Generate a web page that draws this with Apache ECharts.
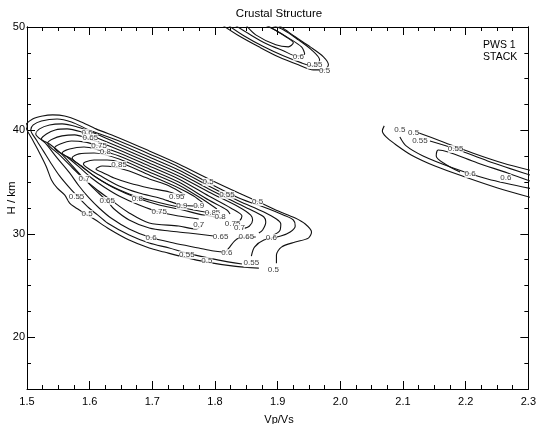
<!DOCTYPE html>
<html><head><meta charset="utf-8">
<script src="https://cdn.jsdelivr.net/npm/echarts@6/dist/echarts.min.js"></script>
<style>html,body{margin:0;padding:0;background:#fff}#c{width:539px;height:424px}</style>
</head><body><div id="c"></div>
<script>
// ---- data: contour polylines (Vp/Vs, H km) ----
const lvl050 = [[1.870,26.69],[1.830,26.88],[1.787,27.27],[1.750,27.75],[1.719,28.24],[1.695,28.63],[1.663,29.40],[1.631,30.47],[1.607,31.43],[1.591,32.02],[1.576,32.60],[1.568,32.98],[1.560,33.76],[1.548,34.44],[1.539,35.21],[1.531,36.47],[1.520,37.82],[1.509,39.08],[1.498,40.44],[1.509,41.11],[1.525,41.40],[1.541,41.50],[1.560,41.40],[1.583,40.92],[1.610,40.15],[1.647,39.27],[1.695,38.02],[1.742,36.76],[1.790,35.31],[1.838,33.95],[1.870,33.08],[1.901,32.21],[1.928,31.53],[1.944,30.95],[1.954,30.18],[1.949,29.59],[1.928,29.21],[1.906,28.72],[1.898,27.95],[1.898,27.17]];
const lvl055 = [[1.843,27.08],[1.806,27.46],[1.755,28.14],[1.727,28.63],[1.695,29.11],[1.663,29.88],[1.631,30.95],[1.615,31.72],[1.599,32.50],[1.583,33.47],[1.568,34.44],[1.552,35.60],[1.539,36.76],[1.526,38.02],[1.515,39.08],[1.506,40.05],[1.510,40.53],[1.523,40.92],[1.548,41.11],[1.571,40.82],[1.599,40.05],[1.647,38.98],[1.695,37.73],[1.742,36.47],[1.790,34.92],[1.838,33.47],[1.886,32.40],[1.909,31.82],[1.925,31.34],[1.928,30.76],[1.920,30.18],[1.905,29.79],[1.878,29.40],[1.863,28.72],[1.858,27.85]];
const lvl060 = [[1.865,29.69],[1.838,29.59],[1.831,29.30],[1.822,28.63],[1.816,28.24],[1.798,28.34],[1.774,28.63],[1.734,29.11],[1.695,29.69],[1.663,30.47],[1.634,31.53],[1.615,32.50],[1.599,33.47],[1.583,34.63],[1.568,35.89],[1.548,37.34],[1.529,38.79],[1.514,39.66],[1.520,40.15],[1.536,40.53],[1.556,40.63],[1.580,40.34],[1.607,39.76],[1.647,38.69],[1.695,37.43],[1.742,36.18],[1.790,34.63],[1.838,33.18],[1.878,32.11],[1.898,31.43],[1.905,30.95],[1.903,30.27],[1.893,29.88]];
const lvl065 = [[1.798,29.79],[1.758,30.08],[1.727,30.27],[1.695,30.56],[1.663,31.34],[1.639,32.40],[1.628,33.18],[1.612,34.05],[1.593,35.21],[1.574,36.47],[1.555,37.73],[1.536,38.69],[1.523,39.18],[1.531,39.66],[1.545,40.05],[1.564,40.15],[1.587,39.85],[1.612,39.27],[1.647,38.40],[1.695,37.14],[1.742,35.89],[1.790,34.34],[1.838,32.89],[1.861,32.21],[1.878,31.63],[1.881,31.14],[1.876,30.37],[1.870,30.08]];
const lvl070 = [[1.779,30.85],[1.770,30.47],[1.742,30.76],[1.695,31.05],[1.663,32.02],[1.634,33.27],[1.612,34.24],[1.591,35.31],[1.571,36.47],[1.552,37.63],[1.533,38.79],[1.541,39.18],[1.556,39.47],[1.576,39.57],[1.599,39.18],[1.623,38.69],[1.647,38.11],[1.695,36.85],[1.742,35.60],[1.790,34.05],[1.838,32.60],[1.857,31.82],[1.860,31.34],[1.855,30.76],[1.844,30.47]];
const lvl075 = [[1.774,31.43],[1.742,31.72],[1.711,32.11],[1.679,32.79],[1.647,33.66],[1.623,34.53],[1.603,35.40],[1.583,36.47],[1.564,37.43],[1.544,38.31],[1.553,38.69],[1.571,38.98],[1.591,38.89],[1.615,38.50],[1.647,37.82],[1.695,36.56],[1.742,35.31],[1.790,33.66],[1.825,32.50],[1.843,31.72],[1.839,31.24],[1.830,30.95]];
const lvl080 = [[1.824,31.92],[1.819,32.31],[1.790,33.27],[1.742,35.01],[1.695,36.27],[1.647,37.53],[1.615,38.11],[1.591,38.40],[1.568,38.21],[1.556,37.82],[1.571,37.24],[1.590,36.37],[1.612,35.40],[1.639,34.44],[1.676,33.47],[1.711,32.79],[1.742,32.40],[1.782,31.82],[1.812,31.53]];
const lvl085 = [[1.803,32.40],[1.782,33.27],[1.742,34.73],[1.695,35.98],[1.647,37.24],[1.607,37.82],[1.583,37.73],[1.572,37.34],[1.587,36.56],[1.607,35.60],[1.631,34.73],[1.663,33.86],[1.695,33.27],[1.727,32.79],[1.766,32.31],[1.793,32.02]];
const lvl090 = [[1.781,32.98],[1.766,33.66],[1.742,34.44],[1.695,35.69],[1.647,36.95],[1.628,37.14],[1.607,37.14],[1.593,36.95],[1.590,36.76],[1.599,36.27],[1.615,35.69],[1.647,34.63],[1.679,33.95],[1.711,33.47],[1.747,32.79],[1.774,32.69]];
const lvl095 = [[1.752,33.76],[1.727,34.63],[1.695,35.31],[1.663,36.08],[1.639,36.47],[1.620,36.56],[1.610,36.27],[1.622,35.89],[1.639,35.40],[1.663,34.92],[1.695,34.44],[1.727,34.05],[1.746,33.66]];
const top050 = [[1.811,50.21],[1.838,49.15],[1.870,48.08],[1.901,47.12],[1.933,46.34],[1.957,45.85],[1.973,45.85],[1.981,46.34],[1.973,47.12],[1.952,48.08],[1.928,49.05],[1.905,50.02],[1.898,50.21]];
const top055 = [[1.820,50.21],[1.846,49.15],[1.878,48.08],[1.909,47.21],[1.938,46.53],[1.957,46.24],[1.967,46.82],[1.954,47.79],[1.933,48.76],[1.909,49.73],[1.889,50.21]];
const top060 = [[1.831,50.21],[1.854,49.34],[1.882,48.37],[1.909,47.70],[1.930,47.21],[1.943,47.41],[1.938,48.08],[1.917,48.95],[1.895,49.73],[1.879,50.21]];
const top065 = [[1.849,50.21],[1.865,49.24],[1.897,48.28],[1.917,48.08],[1.925,48.47],[1.913,49.05],[1.890,49.92],[1.881,50.21]];
const right050a = [[2.070,40.44],[2.067,39.95],[2.073,39.37],[2.087,38.69],[2.113,37.63],[2.151,36.56],[2.199,35.50],[2.251,34.44],[2.307,33.47]];
const right050b = [[2.121,39.85],[2.164,38.89],[2.211,37.82],[2.259,36.85],[2.307,36.08]];
const right055a = [[2.095,39.37],[2.105,38.50],[2.132,37.53],[2.180,36.37],[2.235,35.31],[2.307,34.34]];
const right055b = [[2.143,38.98],[2.184,38.21],[2.235,37.05],[2.307,35.60]];
const right060 = [[2.191,35.98],[2.167,36.76],[2.153,37.53],[2.156,38.11],[2.172,37.92],[2.219,36.85],[2.267,35.89],[2.307,35.01]];
// contour labels: [Vp/Vs, H, level]
const contourLabels = [
 [1.596,39.76,0.6],[1.601,39.27,0.65],[1.615,38.50,0.75],[1.625,37.92,0.8],[1.647,36.66,0.85],
 [1.591,35.31,0.7],[1.579,33.57,0.55],[1.596,31.92,0.5],[1.628,33.18,0.65],[1.676,33.37,0.8],
 [1.739,33.57,0.95],[1.747,32.69,0.9],[1.774,32.69,0.9],[1.711,32.11,0.75],[1.796,32.02,0.85],
 [1.808,31.63,0.8],[1.828,30.95,0.75],[1.839,30.56,0.7],[1.774,30.85,0.7],[1.809,29.69,0.65],
 [1.850,29.69,0.65],[1.890,29.59,0.6],[1.819,28.14,0.6],[1.698,29.59,0.6],[1.755,27.95,0.55],
 [1.787,27.37,0.5],[1.858,27.17,0.55],[1.893,26.50,0.5],[1.789,35.01,0.5],[1.819,33.76,0.55],[1.868,33.08,0.5],
 [1.933,47.12,0.6],[1.959,46.34,0.55],[1.975,45.76,0.5],
 [2.095,40.05,0.5],[2.117,39.76,0.5],[2.127,38.98,0.55],[2.184,38.21,0.55],[2.207,35.79,0.6],[2.264,35.40,0.6]
];
const contourLines = [lvl050,lvl055,lvl060,lvl065,lvl070,lvl075,lvl080,lvl085,lvl090,lvl095,
  top050,top055,top060,top065,right050a,right050b,right055a,right055b,right060];
const yMajorTicks = [20,30,40,50];
const xRange = [1.5, 2.3], yRange = [15, 50];

const FONT = "'Liberation Sans', Arial, Helvetica, sans-serif";
const chart = echarts.init(document.getElementById('c'), null, {renderer:'canvas'});
const axisBase = {
  type:'value', splitLine:{show:false},
  axisLine:{show:true, onZero:false, lineStyle:{color:'#000', width:1}},
};
function xAx(pos, labels){
  return Object.assign({}, axisBase, {
    position:pos, min:xRange[0], max:xRange[1], interval:0.1,
    axisTick:{show:true, inside:true, length:8, lineStyle:{color:'#000'}},
    minorTick:{show:true, splitNumber:4, length:4, lineStyle:{color:'#000'}},
    axisLabel:{show:labels, formatter:v=>v.toFixed(1), fontSize:11, color:'#000', margin:7, fontFamily:FONT}
  });
}
function yMajor(pos, labels){
  return Object.assign({}, axisBase, {
    position:pos, min:yRange[0], max:yRange[1],
    axisTick:{show:true, inside:true, length:8, customValues:yMajorTicks, lineStyle:{color:'#000'}},
    axisLabel:{show:labels, customValues:yMajorTicks, fontSize:11, color:'#000', margin:2, fontFamily:FONT}
  });
}
function yMinor(pos){
  return Object.assign({}, axisBase, {
    position:pos, min:yRange[0], max:yRange[1], interval:2.5,
    axisTick:{show:true, inside:true, length:4, lineStyle:{color:'#000'}},
    axisLabel:{show:false}
  });
}
const series = contourLines.map(d => ({
  type:'line', data:d, symbol:'none', smooth:0.3, clip:true, silent:true,
  lineStyle:{color:'#111', width:1.1}, z:2
}));
series.push({
  type:'scatter', data:contourLabels, symbolSize:1, itemStyle:{color:'rgba(0,0,0,0)'}, z:5, silent:true,
  label:{show:true, position:'inside', formatter:p=>String(p.value[2]), fontSize:8, color:'#000',
    fontFamily:FONT, backgroundColor:'#fff', padding:[0,0]}
});
chart.setOption({
  animation:false,
  backgroundColor:'#fff',
  grid:{left:27, right:9, top:27, bottom:35, containLabel:false},
  xAxis:[xAx('bottom', true), xAx('top', false)],
  yAxis:[yMajor('left', true), yMinor('left'), yMajor('right', false), yMinor('right')],
  series:series,
  graphic:[
    {type:'text', x:279, y:14, style:{text:'Crustal Structure', align:'center', verticalAlign:'middle', font:"11.5px "+FONT, fill:'#000'}},
    {type:'text', x:279, y:420, style:{text:'Vp/Vs', align:'center', verticalAlign:'middle', font:"11px "+FONT, fill:'#000'}},
    {type:'text', x:11.5, y:198, rotation:Math.PI/2, style:{text:'H / km', align:'center', verticalAlign:'middle', font:"11.5px "+FONT, fill:'#000'}},
    {type:'text', x:483, y:45, style:{text:'PWS 1', align:'left', verticalAlign:'middle', font:"10.5px "+FONT, fill:'#000'}},
    {type:'text', x:483, y:57, style:{text:'STACK', align:'left', verticalAlign:'middle', font:"10.5px "+FONT, fill:'#000'}}
  ]
});
</script></body></html>
